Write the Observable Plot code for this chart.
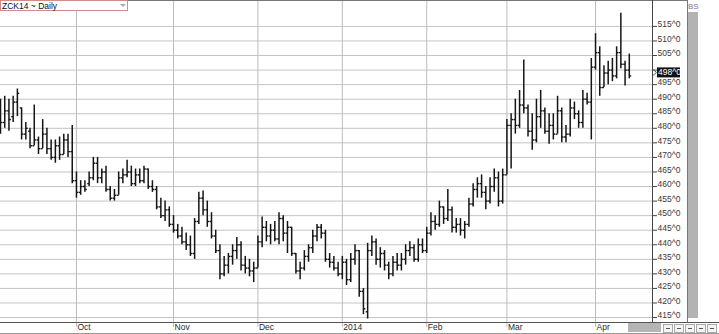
<!DOCTYPE html>
<html><head><meta charset="utf-8">
<script src="https://cdn.jsdelivr.net/npm/d3@7"></script>
<script src="https://cdn.jsdelivr.net/npm/@observablehq/plot@0.6"></script>
<style>
html,body{margin:0;padding:0;background:#fff;overflow:hidden}
#chart svg{display:block}
</style></head><body><div id="chart"></div>
<script>
// ZCK14 daily OHLC, Sep 2013 - Apr 2014
const open = [480,482,486,484,489,487,478,479,474,476, 473,478,473,470,474,471,476,472,462,458,
  460,461,463,468,463,465,459,456,457,463, 464,465,461,464,462,466,460,459,453,450,
  452,447,445,443,441,440,437,448,456,452, 448,443,438,430,433,436,438,440,433,432,
  431,432,441,446,443,445,442,449,444,446, 437,431,432,436,439,443,446,444,435,434,
  432,430,434,428,435,438,424,417,438,441, 435,437,433,430,434,433,435,438,439,435,
  440,438,444,448,447,453,449,452,446,447, 445,447,454,459,461,458,455,460,463,455,
  464,481,483,481,488,487,479,476,484,486, 479,481,478,486,477,478,487,485,482,490,
  489,501,506,494,499,500,498,506,502,500];
const high = [490,491,490,491,493.5,487,482,480,488,477, 483,480,476,476,477,478,478,481,465,462,
  462,465,470,470,466,467,460,459,465,466, 469,467,466,466,467,466,462,460,456,455,
  453,450,447,446,444,443,449,458,458.5,455, 451,445,440,436,437,440,442.5,441,436,435,
  434,443,449.5,448,447,448,451,450,448,446, 437,434,438,440,445,447,447,445,437,436,
  434,436,435,437,440,438,425,440.5,443,442, 439,438,434,436,437,437,440,441,440,442,
  442,446,451,450,455,453,459,453,449,449, 448,456,461,463,464,460,463,466,465,466,
  483,485,490,493,503.5,488,485,490,493,487, 485,485,491,487,481,490,489,486,493,492,
  504,512.5,508,501.5,503,504,508,519.5,503,505.5];
const low = [478,480,479,482,484,476,476,473,474,471, 473,471,469,468,469,471,470,461,456,457,
  458,460,462,461,461,458,455,455,457,461, 463,460,460,461,461,459,458,452,449,448,
  446,444,442,440,438,436,435,447,450,446, 442,437,428,429,430,433,435,431,430,429,
  427,432,439,441,440,441,440,441,437,436, 430,428,431,434,437,441,442,434,432,431,
  429,428,426,427,433,422,416,414.5,436,433, 432,431,428,429,431,431,433,436,434,434,
  437,437,443,445,446,447,448,444,444,443, 442,446,453,456,456,452,454,458,453,454,
  464,466,478,480,485,477,472.5,475,480,478, 474.5,476,478,475,475,477,483,480,480,488,
  476,500,491,494,495,496,497,500.5,494.5,497];
const close = [482,486,483,489,492,478,480,474,476,473, 478,473,470,474,471,476,472,462,458,460,
  459,463,468,463,465,459,456,457,463,464, 465,461,464,462,466,460,459,453,450,452,
  447,445,443,441,440,437,448,456,452,448, 443,438,430,433,436,438,440,433,432,431,
  432,441,446,443,445,442,449,444,446,437, 431,432,436,439,443,446,444,435,434,432,
  430,434,428,435,438,424,418,438,441,435, 437,433,430,434,433,435,438,439,435,440,
  438,444,448,447,453,449,452,446,447,445, 447,454,459,461,458,455,460,463,455,464,
  481,483,481,488,487,479,476,484,486,479, 481,478,486,477,478,487,485,482,490,489,
  501,506,494,499,500,498,506,502,500,498];

const monthLabels = ["Oct","Nov","Dec","2014","Feb","Mar","Apr"];
const monthStart = [18,41,61,81,101,120,141];   // bar index of first session of each month
const yTicks = [415,420,425,430,435,440,445,450,455,460,465,470,475,480,485,490,495,500,505,510,515];
const hiddenTick = 500;                          // label covered by the last-price box
const titleText = "ZCK14 ~ Daily";
const lastLabel = "498^0";

const bars = open.map((o, i) => ({i, open: o, high: high[i], low: low[i], close: close[i]}));
const barColor = "#151515";

const plot = Plot.plot({
  width: 719, height: 334,
  marginTop: 0, marginBottom: 12, marginLeft: 0, marginRight: 67,
  style: {fontFamily: "'Liberation Sans', Arial, sans-serif", background: "#fff", overflow: "visible"},
  x: {domain: [0, 154.5], axis: null},
  y: {domain: [413.3, 523.9], axis: null},
  marks: [
    Plot.ruleY(yTicks, {stroke: "#c4c4c4", strokeWidth: 1}),
    Plot.ruleX(monthStart, {stroke: "#bdbdbd", strokeWidth: 1, insetBottom: -5}),
    Plot.ruleX(bars, {x: "i", y1: "low", y2: "high", stroke: barColor, strokeWidth: 1.5}),
    Plot.link(bars, {x1: d => d.i - 0.45, x2: "i", y1: "open", y2: "open", stroke: barColor, strokeWidth: 1.4}),
    Plot.link(bars, {x1: "i", x2: d => d.i + 0.45, y1: "close", y2: "close", stroke: barColor, strokeWidth: 1.4}),
    Plot.axisY(yTicks, {anchor: "right", tickSize: 4, tickFormat: () => "", stroke: "#444"}),
    Plot.text(yTicks.filter(d => d !== hiddenTick), {y: d => d, frameAnchor: "right", dx: 5, dy: -2, textAnchor: "start",
      text: d => `${d}^0`, fontSize: 8.5, fill: "#3a3a3a"}),
    Plot.text(monthStart, {x: d => d, frameAnchor: "bottom", dx: 1, dy: 7, textAnchor: "start",
      text: (d, i) => monthLabels[i], fontSize: 8.5, fill: "#2a2a2a"})
  ]
});
document.getElementById("chart").appendChild(plot);

// chrome / decorations
const svg = d3.select(plot);
const g = svg.append("g").attr("text-anchor", "start");
g.append("line").attr("x1", 0).attr("x2", 687).attr("y1", 0.5).attr("y2", 0.5).attr("stroke", "#777");
g.append("line").attr("x1", 652.5).attr("x2", 652.5).attr("y1", 0).attr("y2", 322).attr("stroke", "#444");
g.append("line").attr("x1", 687.5).attr("x2", 687.5).attr("y1", 0).attr("y2", 322).attr("stroke", "#777");
g.append("line").attr("x1", 0).attr("x2", 719).attr("y1", 322.5).attr("y2", 322.5).attr("stroke", "#555");
g.append("line").attr("x1", 0).attr("x2", 719).attr("y1", 333.5).attr("y2", 333.5).attr("stroke", "#999");
g.append("rect").attr("x", 688).attr("y", 12).attr("width", 10).attr("height", 306).attr("fill", "#b3b3b3");
g.append("text").attr("x", 688).attr("y", 9).attr("font-size", 8).attr("fill", "#7a76a0").text("BS");
// title box
g.append("rect").attr("x", 0.5).attr("y", 0.5).attr("width", 127).attr("height", 10)
  .attr("fill", "#fff").attr("stroke", "#d58a8a");
g.append("text").attr("x", 2).attr("y", 8.5).attr("font-size", 8.5).attr("fill", "#111").text(titleText);
g.append("path").attr("d", "M120,4 L126,4 L123,7 Z").attr("fill", "#aaa");
// last price marker
const yl = plot.scale("y").apply(close[close.length - 1]) - 3;
g.append("path").attr("d", `M653,${yl - 3} L656.5,${yl} L653,${yl + 3}`).attr("fill", "none").attr("stroke", "#555");
g.append("rect").attr("x", 657).attr("y", yl - 5).attr("width", 23).attr("height", 10).attr("fill", "#111");
g.append("text").attr("x", 658).attr("y", yl + 3).attr("font-size", 8.5).attr("fill", "#fff").text(lastLabel);
// bottom-right scroll controls
g.append("rect").attr("x", 628).attr("y", 323).attr("width", 33).attr("height", 9).attr("fill", "#b5b5b5");
for (let k = 0; k < 5; k++) {
  const bx = 663 + k * 11;
  g.append("rect").attr("x", bx + 0.5).attr("y", 324.5).attr("width", 9).attr("height", 8)
    .attr("fill", "#f4f4f4").attr("stroke", "#aaa");
  g.append("line").attr("x1", bx + 3).attr("x2", bx + 7).attr("y1", 328.5).attr("y2", 328.5).attr("stroke", "#555");
}
</script></body></html>
